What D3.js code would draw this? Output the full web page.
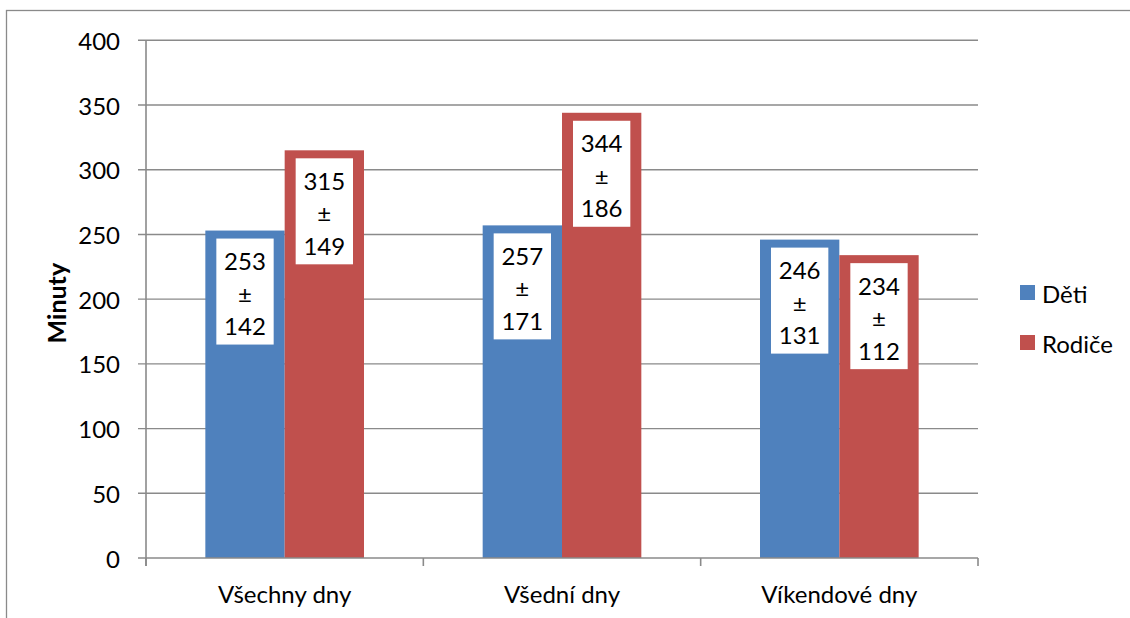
<!DOCTYPE html>
<html>
<head>
<meta charset="utf-8">
<script src="https://cdn.jsdelivr.net/npm/d3@7"></script>
<style>
  body { margin: 0; background: #fff; }
  svg { display: block; }
  text { font-family: Lato, "Noto Sans", sans-serif; fill: #000; }
</style>
</head>
<body>
<div id="target"></div>
<script>
// data
const categories = ["Všechny dny", "Všední dny", "Víkendové dny"]
const seriesNames = ["Děti", "Rodiče"]
const means = [[253, 315], [257, 344], [246, 234]]
const sds = [[142, 149], [171, 186], [131, 112]]
const yTicks = [0, 50, 100, 150, 200, 250, 300, 350, 400]
const colors = ["#4F81BD", "#C0504D"]

const width = 1130
const height = 618
const plot = { left: 146, right: 978, top: 40.3, bottom: 558 }
const gridColor = "#8a8a8a"
const fontSize = 24

const svg = d3.select("#target").append("svg")
    .attr("width", width)
    .attr("height", height)

// outer chart border (cropped at right and bottom)
svg.append("rect")
    .attr("x", 6.5).attr("y", 10.5)
    .attr("width", width + 20).attr("height", height + 20)
    .attr("fill", "none")
    .attr("stroke", gridColor)
    .attr("stroke-width", 1.3)

const y = d3.scaleLinear()
    .domain([0, 400])
    .range([plot.bottom, plot.top])

const x0 = d3.scaleBand()
    .domain(categories)
    .range([plot.left, plot.right])

const x1 = d3.scaleBand()
    .domain(seriesNames)
    .range([0, x0.bandwidth()])
    .paddingOuter(0.748)

//Gridlines
svg.append("g")
    .selectAll("line")
    .data(yTicks.filter(d => d > 0))
    .join("line")
    .attr("x1", plot.left - 8).attr("x2", plot.right)
    .attr("y1", d => y(d)).attr("y2", d => y(d))
    .attr("stroke", gridColor)
    .attr("stroke-width", 1.4)

//Y axis labels
svg.append("g")
    .selectAll("text")
    .data(yTicks)
    .join("text")
    .attr("x", 120)
    .attr("y", d => y(d))
    .attr("text-anchor", "end")
    .attr("dominant-baseline", "central")
    .attr("font-size", fontSize)
    .text(d => d)

//Bars
const groups = svg.append("g")
    .selectAll("g")
    .data(categories)
    .join("g")
    .attr("transform", d => "translate(" + x0(d) + ",0)")

groups.each(function(cat, ci) {
    const g = d3.select(this)
    seriesNames.forEach((s, si) => {
        const v = means[ci][si]
        const bx = x1(s)
        const bw = x1.bandwidth()
        const by = y(v)
        g.append("rect")
            .attr("x", bx).attr("y", by)
            .attr("width", bw).attr("height", y(0) - by)
            .attr("fill", colors[si])

        // label box
        g.append("rect")
            .attr("x", bx + 11).attr("y", by + 8)
            .attr("width", bw - 22).attr("height", 106)
            .attr("fill", "#fff")

        const lines = [v, "±", sds[ci][si]]
        lines.forEach((t, li) => {
            g.append("text")
                .attr("x", bx + bw / 2)
                .attr("y", by + 30 + li * 32.5)
                .attr("text-anchor", "middle")
                .attr("dominant-baseline", "central")
                .attr("font-size", fontSize)
                .text(t)
        })
    })
})

//Axes lines
const axis = svg.append("g")
    .attr("stroke", gridColor)
    .attr("stroke-width", 1.6)

axis.append("line")
    .attr("x1", plot.left).attr("x2", plot.left)
    .attr("y1", plot.top).attr("y2", plot.bottom + 8)

axis.append("line")
    .attr("x1", plot.left - 8).attr("x2", plot.right)
    .attr("y1", plot.bottom).attr("y2", plot.bottom)

const boundaries = categories.map(c => x0(c)).concat([plot.right])
axis.selectAll(".xtick")
    .data(boundaries)
    .join("line")
    .attr("x1", d => d).attr("x2", d => d)
    .attr("y1", plot.bottom).attr("y2", plot.bottom + 8)

//X labels
svg.append("g")
    .selectAll("text")
    .data(categories)
    .join("text")
    .attr("x", d => x0(d) + x0.bandwidth() / 2)
    .attr("y", 593)
    .attr("text-anchor", "middle")
    .attr("dominant-baseline", "central")
    .attr("font-size", fontSize)
    .text(d => d)

//Y title
svg.append("text")
    .attr("transform", "translate(56," + ((plot.top + plot.bottom) / 2 + 4) + ") rotate(-90)")
    .attr("text-anchor", "middle")
    .attr("dominant-baseline", "central")
    .attr("font-size", 25)
    .attr("font-weight", "bold")
    .text("Minuty")

//Legend
const legend = svg.append("g")
    .selectAll("g")
    .data(seriesNames)
    .join("g")
    .attr("transform", (d, i) => "translate(1020," + (285 + i * 50) + ")")

legend.append("rect")
    .attr("width", 15).attr("height", 15)
    .attr("fill", (d, i) => colors[i])

legend.append("text")
    .attr("x", 22)
    .attr("y", 8)
    .attr("dominant-baseline", "central")
    .attr("font-size", fontSize)
    .text(d => d)
</script>
</body>
</html>
